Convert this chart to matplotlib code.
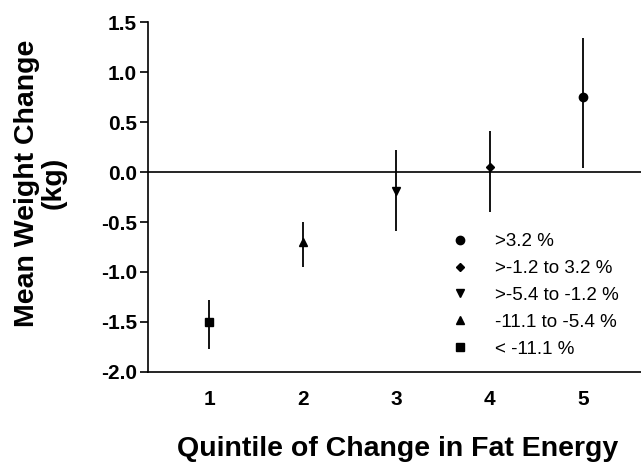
import matplotlib
matplotlib.use('Agg')
from matplotlib import pyplot as plt

plt.rcParams['font.family'] = ['Liberation Sans', 'DejaVu Sans']

# 数据
quintiles = [1, 2, 3, 4, 5]
mean_change = [-1.50, -0.70, -0.19, 0.05, 0.75]
ci_low = [-1.77, -0.95, -0.59, -0.40, 0.04]
ci_high = [-1.28, -0.50, 0.22, 0.41, 1.34]
markers = ['s', '^', 'v', 'D', 'o']
labels = ['< -11.1 %', '-11.1 to -5.4 %', '>-5.4 to -1.2 %', '>-1.2 to 3.2 %', '>3.2 %']
marker_sizes = [5.5, 5.5, 5.5, 4, 6]
y_ticks = [-2.0, -1.5, -1.0, -0.5, 0.0, 0.5, 1.0, 1.5]

fig = plt.figure(figsize=(6.41, 4.62), dpi=100)
ax = fig.add_axes([0.231, 0.195, 0.769, 0.757])

ax.axhline(0, color='black', lw=1.2, zorder=1)

handles = []
for q, m, lo, hi, mk, lab, ms in zip(quintiles, mean_change, ci_low, ci_high, markers, labels, marker_sizes):
    ax.vlines(q, lo, hi, color='black', lw=1.3, zorder=2)
    h, = ax.plot([q], [m], linestyle='none', marker=mk, color='black', markersize=ms, label=lab, zorder=3)
    handles.append(h)

ax.set_xlim(0.344, 5.62)
ax.set_ylim(-2.0, 1.5)
ax.set_yticks(y_ticks)
ax.set_yticklabels(['%.1f' % v for v in y_ticks])
ax.set_xticks(quintiles)

for s in ['top', 'right']:
    ax.spines[s].set_visible(False)
ax.spines['left'].set_linewidth(1.2)
ax.spines['bottom'].set_linewidth(1.2)

ax.tick_params(axis='y', direction='out', length=6, width=1.2, labelsize=15, pad=2)
ax.tick_params(axis='x', length=0, labelsize=15, pad=13)
for t in ax.get_xticklabels() + ax.get_yticklabels():
    t.set_fontweight('bold')

ax.set_xlabel('Quintile of Change in Fat Energy', fontsize=20.5, fontweight='bold', va='top')
ax.xaxis.set_label_coords(0.507, -0.183)
ax.set_ylabel('Mean Weight Change\n(kg)', fontsize=20.5, fontweight='bold', linespacing=1.0)
ax.yaxis.set_label_coords(-0.166, 0.54)

ax.legend(handles[::-1], labels[::-1], loc='upper left', bbox_to_anchor=(0.614, 0.397),
          frameon=False, fontsize=13.5, handlelength=1.0, handletextpad=1.37,
          labelspacing=0.52, borderaxespad=0, borderpad=0)

plt.savefig('out.png', dpi=100)
